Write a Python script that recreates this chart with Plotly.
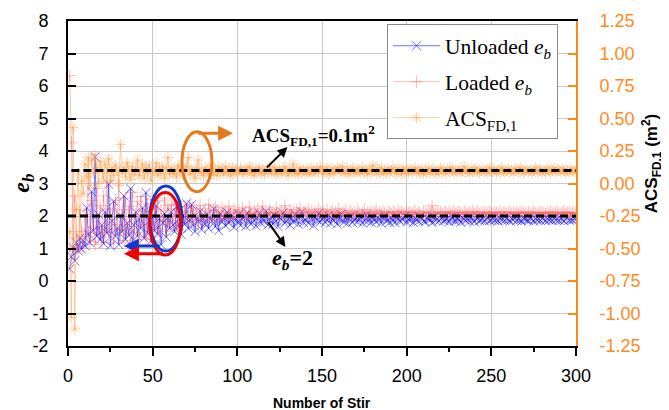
import plotly.graph_objects as go

stirs = list(range(1, 301))

left_tick_vals = [-2, -1, 0, 1, 2, 3, 4, 5, 6, 7, 8]
left_tick_text = ["-2", "-1", "0", "1", "2", "3", "4", "5", "6", "7", "8"]
right_tick_vals = [-1.25, -1.0, -0.75, -0.5, -0.25, 0.0, 0.25, 0.5, 0.75, 1.0, 1.25]
right_tick_text = ["-1.25", "-1.00", "-0.75", "-0.50", "-0.25", "0.00",
                   "0.25", "0.50", "0.75", "1.00", "1.25"]

unloaded_eb = [
    0.37,0.75,1.02,0.62,1.18,0.93,1.32,0.98,1.25,1.08,
    2.25,1.45,1.18,2.75,1.55,3.82,1.38,2.05,1.28,1.72,
    1.15,2.12,1.48,2.98,1.08,1.85,2.45,1.38,1.62,1.12,
    2.02,1.52,2.62,1.28,1.78,1.42,2.85,1.05,1.72,2.12,
    1.38,1.92,1.62,2.25,1.32,2.72,1.48,1.85,1.22,2.02,
    1.55,2.32,1.45,1.92,1.12,1.78,2.08,1.35,1.95,1.62,
    2.12,1.72,1.52,2.28,1.68,1.92,1.42,2.02,1.75,2.38,
    1.62,1.88,2.35,1.72,1.52,1.95,1.82,2.15,1.58,1.92,
    1.75,2.05,1.62,1.98,1.85,2.22,1.68,1.90,1.55,2.08,
    1.82,1.95,1.70,2.12,1.78,1.88,2.02,1.65,1.92,1.80,
    2.05,1.72,1.90,1.98,1.68,2.10,1.85,1.75,2.02,1.88,
    1.70,1.95,2.08,1.78,1.92,1.82,2.15,1.72,1.88,1.98,
    1.75,2.02,1.85,1.68,1.95,1.90,2.10,1.78,1.85,2.00,
    1.72,1.92,1.82,2.05,1.88,1.75,1.98,2.12,1.80,1.90,
    1.85,1.78,2.02,1.92,1.70,1.95,1.88,2.08,1.82,1.90,
    1.96,1.80,1.88,2.02,1.78,1.92,1.85,1.98,1.75,1.90,
    2.05,1.85,1.82,1.95,1.78,1.92,2.00,1.80,1.88,1.94,
    1.82,1.90,1.98,1.78,1.86,2.04,1.84,1.90,1.80,1.95,
    1.88,1.82,1.96,1.90,1.78,1.92,2.02,1.85,1.88,1.80,
    1.94,1.86,1.80,1.98,1.90,1.84,1.92,1.88,2.00,1.82,
    1.90,1.86,1.95,1.80,1.92,1.88,1.84,1.98,1.90,1.85,
    1.82,1.94,1.88,1.90,1.80,1.96,1.86,1.92,1.84,1.90,
    1.95,1.85,1.88,1.92,1.82,1.90,1.98,1.86,1.84,1.92,
    1.88,1.80,1.94,1.90,1.86,1.92,1.84,1.96,1.88,1.82,
    1.90,1.94,1.86,1.88,1.92,1.84,1.90,1.96,1.86,1.88,
    1.92,1.86,1.90,1.84,1.94,1.88,1.90,1.86,1.92,1.88,
    1.84,1.92,1.88,1.95,1.86,1.90,1.88,1.84,1.92,1.90,
    1.88,1.86,1.94,1.90,1.84,1.92,1.88,1.90,1.86,1.93,
    1.90,1.85,1.92,1.88,1.90,1.86,1.94,1.88,1.90,1.86,
    1.92,1.88,1.85,1.90,1.94,1.87,1.90,1.88,1.92,1.89,
]

loaded_eb = [
    6.32,4.25,1.02,2.62,1.32,0.92,2.18,1.52,1.02,2.05,
    1.38,3.42,1.22,2.48,1.65,1.12,2.85,1.45,2.32,1.18,
    2.62,1.50,3.05,1.35,2.22,1.62,1.15,2.48,1.72,2.95,
    1.42,2.20,1.25,2.55,1.58,2.30,1.18,2.72,1.48,2.05,
    2.45,1.35,2.60,1.72,2.15,1.28,2.38,1.65,2.52,1.45,
    2.25,1.62,2.48,1.38,2.18,1.82,2.55,1.52,2.32,1.72,
    2.35,1.85,2.22,1.62,2.45,1.95,2.15,1.75,2.30,1.88,
    2.12,2.40,1.82,2.25,1.95,2.18,1.72,2.32,2.02,1.88,
    2.22,1.95,2.35,2.05,1.82,2.18,2.28,1.98,2.12,1.90,
    2.25,2.02,2.15,1.92,2.30,2.08,1.95,2.20,2.12,2.00,
    2.18,1.98,2.25,2.05,2.12,1.92,2.28,2.08,2.00,2.15,
    2.05,2.22,1.98,2.12,2.30,2.02,2.10,1.95,2.20,2.08,
    2.12,2.02,2.25,2.08,1.98,2.15,2.05,2.32,2.10,2.00,
    2.20,2.05,2.12,1.98,2.18,2.08,2.25,2.02,2.10,2.15,
    2.02,2.20,2.08,2.15,1.98,2.12,2.05,2.22,2.10,2.02,
    2.14,2.06,2.20,2.02,2.10,2.16,2.04,2.12,2.08,2.22,
    2.05,2.12,2.08,2.18,2.02,2.10,2.15,2.06,2.12,2.04,
    2.16,2.08,2.02,2.12,2.20,2.06,2.10,2.04,2.14,2.08,
    2.10,2.18,2.04,2.12,2.06,2.15,2.08,2.02,2.12,2.10,
    2.06,2.14,2.10,2.04,2.16,2.08,2.12,2.05,2.10,2.14,
    2.08,2.12,2.04,2.10,2.16,2.06,2.12,2.08,2.02,2.14,
    2.10,2.06,2.12,2.08,2.32,2.10,2.04,2.14,2.08,2.12,
    2.06,2.10,2.14,2.04,2.12,2.08,2.10,2.16,2.06,2.10,
    2.12,2.08,2.04,2.14,2.10,2.06,2.12,2.08,2.15,2.05,
    2.10,2.14,2.06,2.10,2.08,2.12,2.04,2.10,2.14,2.08,
    2.06,2.12,2.10,2.08,2.14,2.04,2.10,2.12,2.06,2.10,
    2.14,2.08,2.10,2.05,2.12,2.08,2.10,2.14,2.06,2.10,
    2.08,2.12,2.06,2.10,2.14,2.08,2.04,2.10,2.12,2.08,
    2.10,2.06,2.12,2.08,2.14,2.10,2.05,2.10,2.12,2.08,
    2.06,2.10,2.14,2.08,2.10,2.12,2.06,2.10,2.08,2.11,
]

acs_fd1 = [
    -0.37,-1.03,0.43,-1.12,-0.20,0.08,-0.41,0.02,-0.08,0.15,
    0.05,0.20,-0.02,0.18,0.08,0.22,0.12,0.00,0.17,0.10,
    0.04,0.15,0.08,0.19,0.02,0.12,0.06,0.14,0.10,0.00,
    0.30,0.08,0.12,0.05,0.16,0.10,0.03,0.13,0.07,0.11,
    0.18,0.06,0.10,0.15,0.04,0.12,0.08,0.14,0.02,0.10,
    0.09,0.16,0.06,0.12,0.08,0.13,0.04,0.11,0.20,0.07,
    0.12,0.08,0.10,0.05,0.14,0.09,0.12,0.06,0.10,0.13,
    0.20,0.07,0.11,0.09,0.04,0.12,0.18,0.08,0.10,0.06,
    0.12,0.09,0.07,0.11,0.14,0.08,0.10,0.06,0.12,0.09,
    0.11,0.07,0.13,0.09,0.10,0.06,0.12,0.08,0.10,0.11,
    0.08,0.12,0.09,0.07,0.11,0.10,0.13,0.08,0.10,0.06,
    0.11,0.09,0.12,0.08,0.10,0.07,0.11,0.09,0.13,0.08,
    0.10,0.12,0.07,0.09,0.11,0.08,0.10,0.13,0.09,0.06,
    0.11,0.09,0.15,0.08,0.10,0.07,0.12,0.09,0.10,0.08,
    0.11,0.09,0.07,0.12,0.10,0.08,0.11,0.09,0.13,0.10,
    0.08,0.10,0.12,0.07,0.09,0.11,0.08,0.10,0.12,0.09,
    0.10,0.13,0.08,0.09,0.11,0.07,0.10,0.12,0.09,0.08,
    0.11,0.10,0.08,0.12,0.09,0.10,0.07,0.11,0.09,0.14,
    0.10,0.08,0.11,0.09,0.12,0.07,0.10,0.09,0.11,0.08,
    0.10,0.12,0.09,0.08,0.11,0.10,0.07,0.12,0.09,0.10,
    0.08,0.11,0.09,0.10,0.12,0.08,0.10,0.09,0.11,0.07,
    0.10,0.09,0.12,0.08,0.10,0.11,0.09,0.07,0.10,0.12,
    0.09,0.10,0.08,0.11,0.09,0.12,0.10,0.08,0.10,0.09,
    0.11,0.08,0.10,0.13,0.09,0.10,0.08,0.11,0.09,0.10,
    0.12,0.09,0.08,0.10,0.11,0.09,0.10,0.08,0.12,0.10,
    0.09,0.11,0.08,0.10,0.09,0.12,0.10,0.08,0.10,0.11,
    0.09,0.10,0.08,0.11,0.10,0.09,0.12,0.10,0.08,0.10,
    0.11,0.09,0.10,0.08,0.10,0.12,0.09,0.10,0.11,0.08,
    0.10,0.09,0.11,0.10,0.08,0.10,0.12,0.09,0.10,0.10,
    0.09,0.11,0.10,0.08,0.10,0.09,0.11,0.10,0.09,0.10,
]

eb_target = 2
acs_target = 0.1

SERIF = "Liberation Serif, Times New Roman, serif"
SANS = "Liberation Sans, Arial, sans-serif"
ORANGE = "#ff8a1c"

fig = go.Figure()

fig.add_trace(go.Scatter(
    x=stirs, y=unloaded_eb, name="Unloaded <i>e</i><sub><i>b</i></sub>",
    mode="lines+markers", legendgroup="a",
    line=dict(color="rgba(20,20,255,0.6)", width=1),
    marker=dict(symbol="x-thin-open", size=9,
                line=dict(color="rgba(90,90,255,0.6)", width=1)),
))
fig.add_trace(go.Scatter(
    x=stirs, y=loaded_eb, name="Loaded <i>e</i><sub><i>b</i></sub>",
    mode="lines+markers", legendgroup="b",
    line=dict(color="rgba(255,70,70,0.35)", width=1),
    marker=dict(symbol="cross-thin-open", size=9,
                line=dict(color="rgba(255,30,30,0.8)", width=1)),
))
fig.add_trace(go.Scatter(
    x=stirs, y=acs_fd1, name="ACS<sub>FD,1</sub>", yaxis="y2",
    mode="lines+markers", legendgroup="c",
    line=dict(color="rgba(255,160,70,0.5)", width=1),
    marker=dict(symbol="asterisk-open", size=9,
                line=dict(color="rgba(255,130,20,0.85)", width=1)),
))

shapes = [
    dict(type="line", xref="x", yref="y", x0=0, x1=300, y0=eb_target, y1=eb_target,
         line=dict(color="black", width=3, dash="8px,4px"), layer="above"),
    dict(type="line", xref="x", yref="y2", x0=2, x1=300, y0=acs_target, y1=acs_target,
         line=dict(color="black", width=3, dash="8px,4px"), layer="above"),
    dict(type="circle", xref="x", yref="y", x0=67.3, x1=85.0, y0=2.75, y1=4.59,
         line=dict(color="#e57a1c", width=3)),
    dict(type="circle", xref="x", yref="y", x0=48.3, x1=67.3, y0=0.92, y1=2.92,
         line=dict(color="#1238d0", width=3)),
    dict(type="circle", xref="x", yref="y", x0=48.3, x1=66.5, y0=0.80, y1=2.72,
         line=dict(color="#f00000", width=3)),
]

def arrow(x, y, ax, ay, color, width):
    return dict(x=x, y=y, ax=ax, ay=ay, xref="x", yref="y", axref="x", ayref="y",
                text="", showarrow=True, arrowhead=2, arrowsize=1,
                arrowwidth=width, arrowcolor=color, standoff=0, startstandoff=0)

annotations = [
    arrow(97.5, 4.55, 76.0, 4.55, "#e57a1c", 3),
    arrow(33.0, 1.08, 55.0, 1.08, "#1238d0", 3),
    arrow(33.0, 0.84, 57.0, 0.84, "#f00000", 3),
    arrow(129.6, 4.12, 116.6, 3.45, "black", 2),
    arrow(128.4, 1.05, 117.8, 1.85, "black", 2),
    dict(x=144.7, y=4.49, xref="x", yref="y", showarrow=False,
         text="<b>ACS<sub>FD,1</sub>=0.1m<sup>2</sup></b>",
         font=dict(family=SERIF, size=19, color="black")),
    dict(x=132.4, y=0.68, xref="x", yref="y", showarrow=False,
         text="<b><i>e</i><sub><i>b</i></sub>=2</b>",
         font=dict(family=SERIF, size=22, color="black")),
    dict(x=-0.09, y=0.5, xref="paper", yref="paper", showarrow=False, textangle=-90,
         xanchor="center", yanchor="middle",
         text="<b><i>e</i><sub><i>b</i></sub></b>",
         font=dict(family=SERIF, size=24, color="black")),
    dict(x=1.15, y=0.56, xref="paper", yref="paper", showarrow=False, textangle=-90,
         xanchor="center", yanchor="middle",
         text="<b>ACS<sub>FD,1</sub> (m<sup>2</sup>)</b>",
         font=dict(family=SANS, size=17, color="black")),
    dict(x=0.5, y=-0.175, xref="paper", yref="paper", showarrow=False,
         xanchor="center", yanchor="middle",
         text="<b>Number of Stir</b>",
         font=dict(family=SANS, size=14, color="black")),
]

# the page body adds an 8px offset; margins compensate so the plot lands where the reference has it
fig.update_layout(
    width=669, height=410, autosize=False,
    margin=dict(l=60, r=101, t=13, b=72),
    paper_bgcolor="white", plot_bgcolor="white",
    font=dict(family=SANS, size=18, color="black"),
    showlegend=True,
    legend=dict(x=0.628, y=0.99, xanchor="left", yanchor="top",
                bgcolor="white", bordercolor="#8a8a8a", borderwidth=1,
                font=dict(family=SERIF, size=21.5, color="black"),
                itemwidth=47, tracegroupgap=5, traceorder="grouped"),
    xaxis=dict(range=[0, 300], dtick=50, showgrid=True, gridcolor="#c8c8c8", gridwidth=1,
               zeroline=False, showline=True, linecolor="black", linewidth=2, mirror=True,
               ticks="outside", ticklen=8, tickwidth=1.5, tickcolor="black",
               minor=dict(dtick=25, ticks="outside", ticklen=4, tickcolor="black", showgrid=False),
               tickfont=dict(family=SANS, size=18), ticklabelstandoff=4, automargin=False),
    yaxis=dict(range=[-2, 8], tickmode="array", tickvals=left_tick_vals, ticktext=left_tick_text,
               showgrid=True, gridcolor="#c8c8c8", gridwidth=1,
               zeroline=False, showline=True, linecolor="black", linewidth=2,
               ticks="inside", ticklen=8, tickwidth=2, tickcolor="black",
               tickfont=dict(family=SANS, size=18), ticklabelstandoff=14, automargin=False),
    yaxis2=dict(range=[-1.25, 1.25], tickmode="array", tickvals=right_tick_vals,
                ticktext=right_tick_text, overlaying="y", side="right",
                showgrid=False, zeroline=False, showline=True, linecolor=ORANGE, linewidth=2,
                ticks="inside", ticklen=8, tickwidth=2, tickcolor=ORANGE,
                tickfont=dict(family=SANS, size=18, color=ORANGE), ticklabelstandoff=18,
                automargin=False),
    shapes=shapes, annotations=annotations,
)

fig.write_html("out.html")
